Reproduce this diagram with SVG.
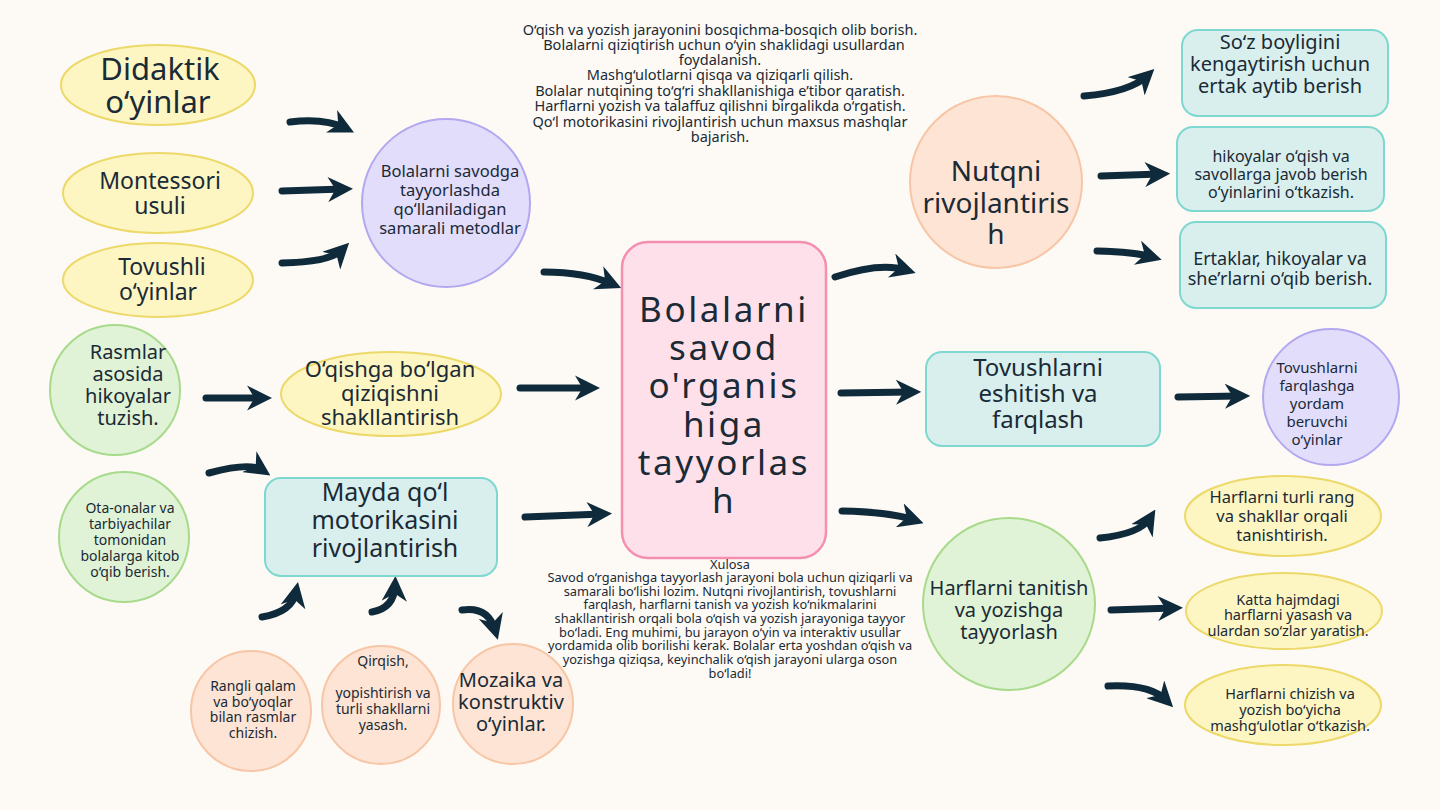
<svg xmlns="http://www.w3.org/2000/svg" width="1440" height="810" viewBox="0 0 1440 810">
<style>
text{font-family:"Noto Sans","Open Sans",sans-serif;fill:#1a2a36;text-anchor:middle}
.y{fill:#fdf6c3;stroke:#ecd96a;stroke-width:2}
.p{fill:#e2ddfb;stroke:#b3a8f0;stroke-width:2}
.g{fill:#e0f3d6;stroke:#a8da8c;stroke-width:2}
.o{fill:#fde4d4;stroke:#f7c6a6;stroke-width:2}
.t{fill:#d9efed;stroke:#7fd8cf;stroke-width:2}
.c path{fill:none;stroke:#0f2b3b;stroke-width:7;stroke-linecap:round;stroke-linejoin:round;marker-end:url(#ah)}
</style>
<defs><marker id="ah" viewBox="0 0 10 10" refX="6" refY="5" markerWidth="3.6" markerHeight="3.6" orient="auto"><path d="M0,0 L10,5 L0,10 L3,5z" fill="#0f2b3b"/></marker></defs>
<rect width="1440" height="810" fill="#fdfaf5"/>
<g class="c" id="connectors">
<path d="M290,122 Q325,118 345,128"/>
<path d="M282,191 L343,189"/>
<path d="M282,263 Q330,262 342,250"/>
<path d="M544,272 Q585,272 612,284"/>
<path d="M206,398 L262,398"/>
<path d="M209,473 Q250,462 262,470"/>
<path d="M520,388 L590,388"/>
<path d="M525,517 L602,514"/>
<path d="M262,617 Q292,612 296,592"/>
<path d="M372,612 Q394,608 395,586"/>
<path d="M462,610 Q488,606 495,630"/>
<path d="M835,277 Q880,262 906,270"/>
<path d="M1084,96 Q1130,92 1147,76"/>
<path d="M1101,176 L1160,174"/>
<path d="M1097,251 Q1135,252 1152,257"/>
<path d="M841,393 L911,392"/>
<path d="M1178,397 L1240,396"/>
<path d="M842,511 Q890,512 914,520"/>
<path d="M1100,538 Q1140,534 1150,518"/>
<path d="M1111,610 L1173,608"/>
<path d="M1108,686 Q1150,684 1166,700"/>
</g>
<g id="center"><rect x="622" y="242" width="204" height="316" rx="26" fill="#fde0ea" stroke="#f48fb1" stroke-width="2.5"/>
<text font-size="35" letter-spacing="2.6"><tspan x="724" y="322">Bolalarni</tspan><tspan x="724" y="360">savod</tspan><tspan x="724" y="398">o'rganis</tspan><tspan x="724" y="437">higa</tspan><tspan x="724" y="475">tayyorlas</tspan><tspan x="724" y="513">h</tspan></text></g>
<g id="didaktik"><ellipse class="y" cx="158" cy="85" rx="97" ry="40"/><text font-size="31"><tspan x="160" y="80">Didaktik</tspan><tspan x="158" y="113">o‘yinlar</tspan></text></g>
<g id="montessori"><ellipse class="y" cx="158" cy="193" rx="95" ry="40"/><text font-size="23"><tspan x="160" y="189">Montessori</tspan><tspan x="160" y="214">usuli</tspan></text></g>
<g id="tovushli"><ellipse class="y" cx="158" cy="280" rx="95" ry="37"/><text font-size="23"><tspan x="162" y="275">Tovushli</tspan><tspan x="158" y="300">o‘yinlar</tspan></text></g>
<g id="metodlar"><circle class="p" cx="446" cy="203" r="84"/><text font-size="16.5"><tspan x="450" y="177">Bolalarni savodga</tspan><tspan x="450" y="196">tayyorlashda</tspan><tspan x="450" y="215">qo‘llaniladigan</tspan><tspan x="450" y="234">samarali metodlar</tspan></text></g>
<g id="rasmlar"><circle class="g" cx="115" cy="390" r="65"/><text font-size="20"><tspan x="128" y="359">Rasmlar</tspan><tspan x="128" y="381">asosida</tspan><tspan x="128" y="403">hikoyalar</tspan><tspan x="128" y="425">tuzish.</tspan></text></g>
<g id="oqishga"><ellipse class="y" cx="391" cy="394" rx="110" ry="42"/><text font-size="22"><tspan x="390" y="377">O‘qishga bo‘lgan</tspan><tspan x="390" y="401">qiziqishni</tspan><tspan x="390" y="425">shakllantirish</tspan></text></g>
<g id="otaonalar"><circle class="g" cx="124" cy="537" r="65"/><text font-size="14"><tspan x="130" y="513">Ota-onalar va</tspan><tspan x="130" y="529">tarbiyachilar</tspan><tspan x="130" y="545">tomonidan</tspan><tspan x="130" y="561">bolalarga kitob</tspan><tspan x="130" y="577">o‘qib berish.</tspan></text></g>
<g id="mayda"><rect class="t" x="265" y="478" width="232" height="98" rx="16"/><text font-size="25"><tspan x="385" y="501">Mayda qo‘l</tspan><tspan x="385" y="529">motorikasini</tspan><tspan x="385" y="557">rivojlantirish</tspan></text></g>
<g id="rangli"><circle class="o" cx="251" cy="711" r="60"/><text font-size="14"><tspan x="253" y="691">Rangli qalam</tspan><tspan x="253" y="707">va bo‘yoqlar</tspan><tspan x="253" y="722">bilan rasmlar</tspan><tspan x="253" y="738">chizish.</tspan></text></g>
<g id="qirqish"><circle class="o" cx="381" cy="705" r="59"/><text font-size="14"><tspan x="383" y="666">Qirqish,</tspan><tspan x="383" y="698">yopishtirish va</tspan><tspan x="383" y="714">turli shakllarni</tspan><tspan x="383" y="730">yasash.</tspan></text></g>
<g id="mozaika"><circle class="o" cx="513" cy="704" r="60"/><text font-size="20"><tspan x="511" y="687">Mozaika va</tspan><tspan x="511" y="709">konstruktiv</tspan><tspan x="511" y="731">o‘yinlar.</tspan></text></g>
<g id="nutqni"><circle class="o" cx="996" cy="182" r="86"/><text font-size="28"><tspan x="996" y="181">Nutqni</tspan><tspan x="996" y="213">rivojlantiris</tspan><tspan x="996" y="244">h</tspan></text></g>
<g id="sozboyligi"><rect class="t" x="1182" y="30" width="206" height="86" rx="16"/><text font-size="20"><tspan x="1280" y="49">So‘z boyligini</tspan><tspan x="1280" y="71">kengaytirish uchun</tspan><tspan x="1280" y="93">ertak aytib berish</tspan></text></g>
<g id="hikoyalar"><rect class="t" x="1177" y="127" width="207" height="84" rx="16"/><text font-size="16"><tspan x="1281" y="162">hikoyalar o‘qish va</tspan><tspan x="1281" y="180">savollarga javob berish</tspan><tspan x="1281" y="198">o‘yinlarini o‘tkazish.</tspan></text></g>
<g id="ertaklar"><rect class="t" x="1180" y="222" width="206" height="86" rx="16"/><text font-size="18"><tspan x="1280" y="265">Ertaklar, hikoyalar va</tspan><tspan x="1280" y="285">she’rlarni o‘qib berish.</tspan></text></g>
<g id="tovushlarni"><rect class="t" x="926" y="352" width="234" height="94" rx="16"/><text font-size="24"><tspan x="1038" y="376">Tovushlarni</tspan><tspan x="1038" y="402">eshitish va</tspan><tspan x="1038" y="428">farqlash</tspan></text></g>
<g id="farqlashga"><circle class="p" cx="1331" cy="397" r="68"/><text font-size="15"><tspan x="1317" y="373">Tovushlarni</tspan><tspan x="1317" y="391">farqlashga</tspan><tspan x="1317" y="409">yordam</tspan><tspan x="1317" y="427">beruvchi</tspan><tspan x="1317" y="445">o‘yinlar</tspan></text></g>
<g id="harflarni"><circle class="g" cx="1009" cy="604" r="86"/><text font-size="20"><tspan x="1009" y="595">Harflarni tanitish</tspan><tspan x="1009" y="617">va yozishga</tspan><tspan x="1009" y="639">tayyorlash</tspan></text></g>
<g id="turlirang"><ellipse class="y" cx="1283" cy="516" rx="98" ry="40"/><text font-size="16.5"><tspan x="1282" y="503">Harflarni turli rang</tspan><tspan x="1282" y="522">va shakllar orqali</tspan><tspan x="1282" y="541">tanishtirish.</tspan></text></g>
<g id="katta"><ellipse class="y" cx="1284" cy="611" rx="98" ry="38"/><text font-size="14.5"><tspan x="1288" y="605">Katta hajmdagi</tspan><tspan x="1288" y="620">harflarni yasash va</tspan><tspan x="1288" y="636">ulardan so‘zlar yaratish.</tspan></text></g>
<g id="chizish"><ellipse class="y" cx="1283" cy="705" rx="98" ry="40"/><text font-size="14.5"><tspan x="1290" y="699">Harflarni chizish va</tspan><tspan x="1290" y="715">yozish bo‘yicha</tspan><tspan x="1290" y="731">mashg‘ulotlar o‘tkazish.</tspan></text></g>
<g id="toptext"><text font-size="14.5"><tspan x="720" y="35">O‘qish va yozish jarayonini bosqichma-bosqich olib borish.</tspan><tspan x="724" y="50">Bolalarni qiziqtirish uchun o‘yin shaklidagi usullardan</tspan><tspan x="720" y="65">foydalanish.</tspan><tspan x="720" y="80">Mashg‘ulotlarni qisqa va qiziqarli qilish.</tspan><tspan x="720" y="96">Bolalar nutqining to‘g‘ri shakllanishiga e’tibor qaratish.</tspan><tspan x="720" y="111">Harflarni yozish va talaffuz qilishni birgalikda o‘rgatish.</tspan><tspan x="720" y="127">Qo‘l motorikasini rivojlantirish uchun maxsus mashqlar</tspan><tspan x="720" y="142">bajarish.</tspan></text></g>
<g id="xulosa"><text font-size="12.8"><tspan x="730" y="569">Xulosa</tspan><tspan x="730" y="582">Savod o‘rganishga tayyorlash jarayoni bola uchun qiziqarli va</tspan><tspan x="730" y="596">samarali bo‘lishi lozim. Nutqni rivojlantirish, tovushlarni</tspan><tspan x="730" y="609">farqlash, harflarni tanish va yozish ko‘nikmalarini</tspan><tspan x="730" y="623">shakllantirish orqali bola o‘qish va yozish jarayoniga tayyor</tspan><tspan x="730" y="637">bo‘ladi. Eng muhimi, bu jarayon o‘yin va interaktiv usullar</tspan><tspan x="730" y="650">yordamida olib borilishi kerak. Bolalar erta yoshdan o‘qish va</tspan><tspan x="730" y="664">yozishga qiziqsa, keyinchalik o‘qish jarayoni ularga oson</tspan><tspan x="730" y="678">bo‘ladi!</tspan></text></g>
</svg>
